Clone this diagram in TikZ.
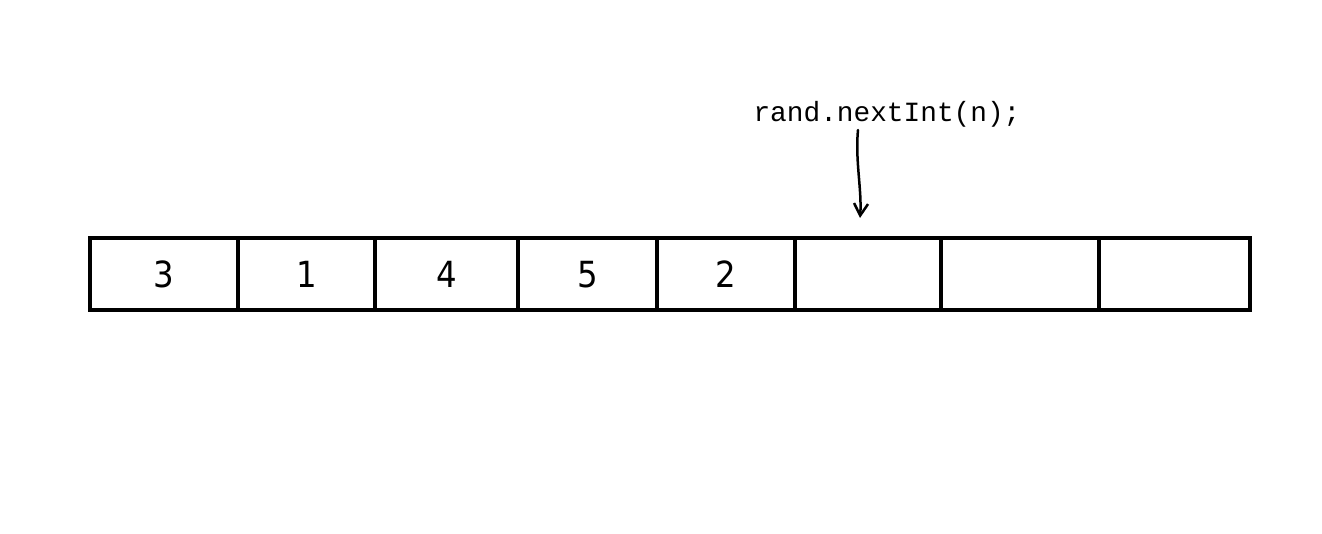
\documentclass[tikz,border=0pt]{standalone}
\usepackage{fontspec}
\newfontfamily\codefont{Liberation Mono}
\newfontfamily\handfont{DejaVu Sans}[FakeStretch=0.9]
\usetikzlibrary{arrows.meta}
\begin{document}
\begin{tikzpicture}[x=1pt,y=-1pt,
  cellbox/.style={draw,line width=4pt,minimum height=72pt,inner sep=0pt,outer sep=0pt,anchor=north west,font=\handfont\fontsize{36}{36}\selectfont},
  lbl/.style={font=\codefont\fontsize{27.8}{30}\selectfont,inner sep=0pt}]
\useasboundingbox[fill=white] (0,0) rectangle (1322,534);
\node[cellbox,minimum width=148pt] (c1) at (90,238.5) {3};
\node[cellbox,minimum width=137pt] (c2) at (238,238.5) {1};
\node[cellbox,minimum width=143pt] (c3) at (375,238.5) {4};
\node[cellbox,minimum width=139pt] (c4) at (518,238.5) {5};
\node[cellbox,minimum width=138pt] (c5) at (657,238.5) {2};
\node[cellbox,minimum width=146pt] (c6) at (795,238.5) {};
\node[cellbox,minimum width=158pt] (c7) at (941,238.5) {};
\node[cellbox,minimum width=150.5pt] (c8) at (1099,238.5) {};
\node[lbl] (code) at (887,114) {rand.nextInt(n);};
\coordinate (as) at (858,130);
\coordinate (ae) at (860,218);
\draw[line width=2.5pt,line cap=round,-{Straight Barb[length=12pt,width=14pt,line width=2.5pt]}]
  (as) .. controls (855,160) and (862,190) .. (ae);
\end{tikzpicture}
\end{document}
